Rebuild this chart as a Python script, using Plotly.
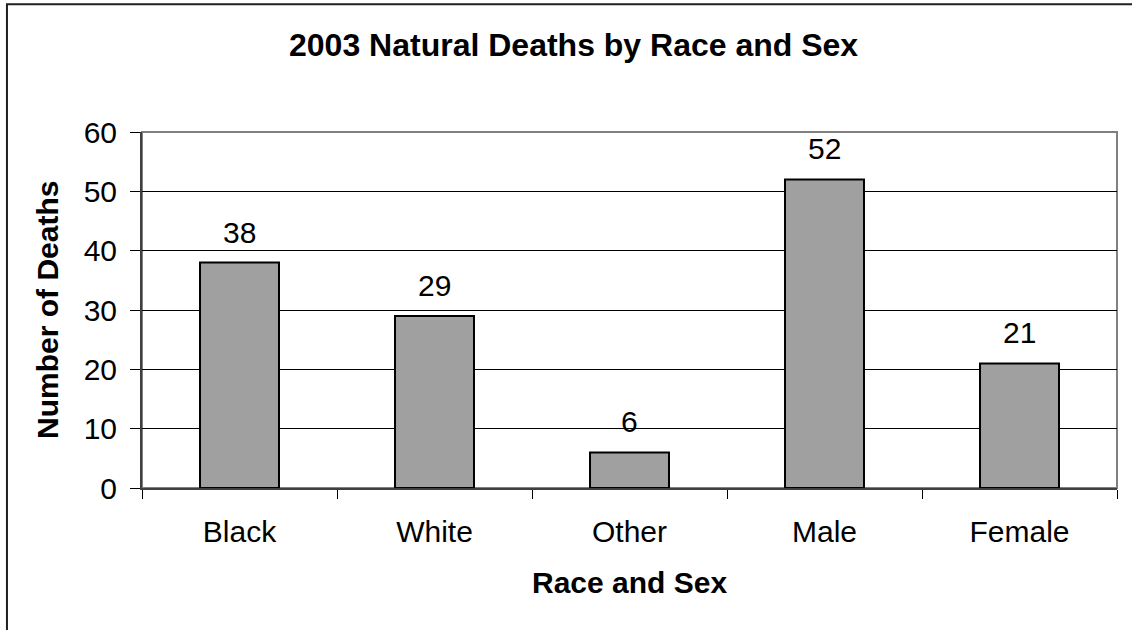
import plotly.graph_objects as go

# Natural deaths in 2003, broken down by race and by sex
categories = ["Black", "White", "Other", "Male", "Female"]
deaths = [38, 29, 6, 52, 21]
y_ticks = [0, 10, 20, 30, 40, 50, 60]

FONT = "Arial, 'Liberation Sans', sans-serif"

fig = go.Figure()

fig.add_trace(go.Bar(
    x=categories,
    y=deaths,
    marker=dict(color="#a0a0a0", line=dict(color="#000000", width=2)),
    hoverinfo="x+y",
))

# value labels above each bar
for cat, val in zip(categories, deaths):
    fig.add_annotation(
        x=cat, y=val, text=str(val), showarrow=False,
        xref="x", yref="y", yanchor="bottom", yshift=12,
        font=dict(family=FONT, size=30, color="#000000"),
    )

# chart title
fig.add_annotation(
    x=0.4426, y=1.245, xref="paper", yref="paper",
    text="<b>2003 Natural Deaths by Race and Sex</b>", showarrow=False,
    xanchor="center", yanchor="middle",
    font=dict(family=FONT, size=32, color="#000000"),
)

# axis titles
fig.add_annotation(
    x=-0.0975, y=0.5, xref="paper", yref="paper",
    text="<b>Number of Deaths</b>", showarrow=False, textangle=-90,
    xanchor="center", yanchor="middle",
    font=dict(family=FONT, size=30, color="#000000"),
)
fig.add_annotation(
    x=0.5, y=-0.2644, xref="paper", yref="paper",
    text="<b>Race and Sex</b>", showarrow=False,
    xanchor="center", yanchor="middle",
    font=dict(family=FONT, size=30, color="#000000"),
)

# plot-area frame (grey) and outer chart border
fig.add_shape(type="rect", xref="paper", yref="paper", x0=0, x1=1, y0=0, y1=1,
              line=dict(color="#808080", width=2), layer="below")
fig.add_shape(type="rect", xref="paper", yref="paper",
              x0=-0.1385, x1=1.05, y0=-0.5, y1=1.3586,
              line=dict(color="#202020", width=2), layer="below")

fig.update_layout(
    width=1132, height=630,
    margin=dict(l=142, r=15, t=132, b=142),
    paper_bgcolor="#ffffff", plot_bgcolor="#ffffff",
    bargap=0.595,
    showlegend=False,
    font=dict(family=FONT, color="#000000"),
)

fig.update_xaxes(
    type="category",
    showgrid=False,
    showline=True, linecolor="#404040", linewidth=2,
    ticks="outside", tickson="boundaries", ticklen=9, tickwidth=1, tickcolor="#000000",
    tickfont=dict(family=FONT, size=30, color="#000000"),
    ticklabelstandoff=16,
)

fig.update_yaxes(
    range=[0, 60],
    tickvals=y_ticks,
    showgrid=True, gridcolor="#000000", gridwidth=1,
    zeroline=False,
    showline=True, linecolor="#404040", linewidth=2,
    ticks="outside", ticklen=10, tickwidth=1, tickcolor="#000000",
    tickfont=dict(family=FONT, size=30, color="#000000"),
    ticklabelstandoff=7,
)

fig.write_html("out.html")
